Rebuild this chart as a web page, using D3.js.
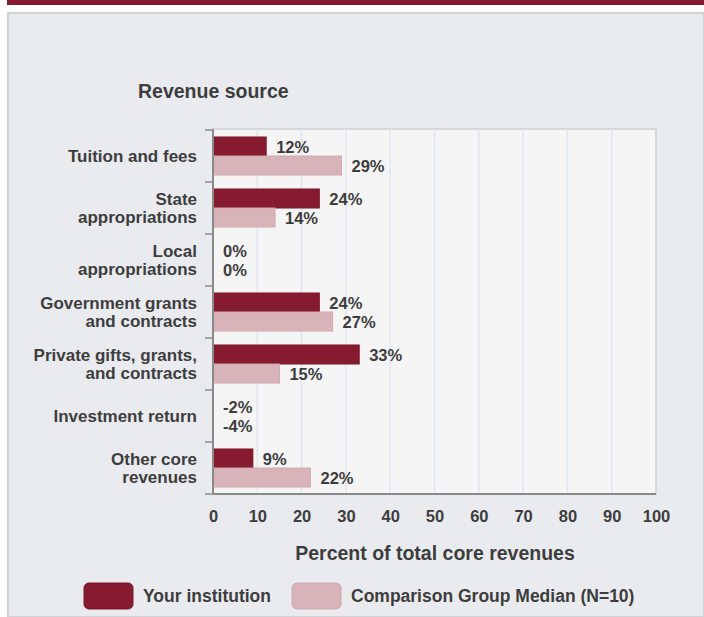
<!DOCTYPE html>
<html><head><meta charset="utf-8">
<script src="https://cdn.jsdelivr.net/npm/d3@7"></script>
<style>body{margin:0;background:#fff}svg{display:block}text{font-family:"Liberation Sans",Arial,sans-serif;font-weight:bold;fill:#3d3d3d}</style>
</head><body>
<script>
const categories = [["Tuition and fees"],["State","appropriations"],["Local","appropriations"],["Government grants","and contracts"],["Private gifts, grants,","and contracts"],["Investment return"],["Other core","revenues"]];
const yourInstitution = [12,24,0,24,33,-2,9];
const comparisonMedian = [29,14,0,27,15,-4,22];
const xTicks = [0,10,20,30,40,50,60,70,80,90,100];
const seriesNames = ["Your institution","Comparison Group Median (N=10)"];
const colors = ["#861a2e","#d9b3ba"];

const W=704,H=617;
const svg=d3.select("body").append("svg").attr("width",W).attr("height",H);
svg.append("rect").attr("x",0).attr("y",0).attr("width",W).attr("height",H).attr("fill","#fff");
svg.append("rect").attr("x",7).attr("y",0).attr("width",W-7).attr("height",5).attr("fill","#861a2e");
svg.append("rect").attr("x",8).attr("y",13).attr("width",W-8).attr("height",H-13).attr("fill","#eaebef").attr("stroke","#d2d2d2").attr("stroke-width",2);

const L=213,R=656,T=129,B=494;
const x=d3.scaleLinear().domain([0,100]).range([L,R]);
const y=d3.scaleBand().domain(d3.range(categories.length)).range([T+1,B]);
svg.append("rect").attr("x",L).attr("y",T).attr("width",R-L).attr("height",B-T).attr("fill","#f5f5f5").attr("stroke","#cfd0d3").attr("stroke-width",1.5);
svg.selectAll(".grid").data(xTicks.slice(1,-1)).enter().append("line")
  .attr("x1",d=>x(d)).attr("x2",d=>x(d)).attr("y1",T).attr("y2",B).attr("stroke","#e2e6ef").attr("stroke-width",1.5);

const bh=19, pad=(y.bandwidth()-2*bh)/2;
const series=[yourInstitution,comparisonMedian];
series.forEach((vals,si)=>{
  const g=svg.append("g");
  g.selectAll("rect").data(vals).enter().append("rect")
    .attr("x",x(0)).attr("y",(d,i)=>y(i)+pad+si*bh)
    .attr("width",d=>Math.max(0,x(d)-x(0))).attr("height",bh)
    .attr("fill",colors[si]).attr("stroke",si?"#d2a9b1":"#7a1529").attr("stroke-width",1);
  g.selectAll("text").data(vals).enter().append("text")
    .attr("x",d=>x(Math.max(0,d))+10).attr("y",(d,i)=>y(i)+pad+si*bh+bh/2+6)
    .attr("font-size","16.5px").text(d=>d+"%");
});

// left axis
svg.append("line").attr("x1",L).attr("x2",L).attr("y1",T).attr("y2",B).attr("stroke","#8a8a8a").attr("stroke-width",2);
svg.selectAll(".ytick").data(d3.range(categories.length+1)).enter().append("line")
  .attr("x1",L-8).attr("x2",L).attr("y1",i=>i<categories.length?y(i):B).attr("y2",i=>i<categories.length?y(i):B)
  .attr("stroke","#8a8a8a").attr("stroke-width",1.5);
svg.append("line").attr("x1",L).attr("x2",R).attr("y1",B).attr("y2",B).attr("stroke","#8a8a8a").attr("stroke-width",2);

categories.forEach((lines,i)=>{
  const cy=y(i)+y.bandwidth()/2;
  const t=svg.append("text").attr("text-anchor","end").attr("font-size","17px");
  lines.forEach((ln,k)=>{
    t.append("tspan").attr("x",197).attr("y",cy+6+(k-(lines.length-1)/2)*18).text(ln);
  });
});

const xa=svg.append("g").attr("transform",`translate(0,${B})`).call(d3.axisBottom(x).tickValues(xTicks).tickSize(0).tickPadding(16));
xa.select(".domain").remove();
xa.selectAll("text").attr("font-size","16.5px").attr("fill","#3d3d3d").attr("font-family","Liberation Sans, Arial, sans-serif").attr("font-weight","bold");

svg.append("text").attr("x",138).attr("y",98).attr("font-size","19.5px").text("Revenue source");
svg.append("text").attr("x",435).attr("y",560).attr("text-anchor","middle").attr("font-size","19.5px").text("Percent of total core revenues");

// legend
const lx=[84,292];
seriesNames.forEach((n,i)=>{
  svg.append("rect").attr("x",lx[i]).attr("y",583).attr("width",49).attr("height",26).attr("rx",5)
    .attr("fill",colors[i]).attr("stroke",i?"#d2a9b1":"#7a1529");
  svg.append("text").attr("x",lx[i]+59).attr("y",602).attr("font-size","17.5px").text(n);
});
</script>
</body></html>
